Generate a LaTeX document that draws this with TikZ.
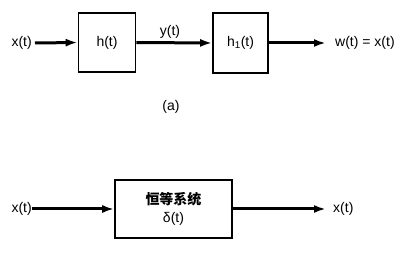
\documentclass[tikz,border=0pt]{standalone}
\usepackage{fontspec}
\setmainfont{Liberation Sans}
\newfontfamily\cjk{Noto Sans CJK SC}
\usetikzlibrary{arrows.meta}
\begin{document}
\begin{tikzpicture}[x=1pt,y=-1pt,
  font=\fontsize{14}{16}\selectfont,
  blockbox/.style={draw,line width=1.6pt,minimum width=#1,inner sep=0pt},
  sig/.style={line width=3pt,-{Latex[length=12pt,width=8pt]}},
  lbl/.style={inner sep=0pt}]
\useasboundingbox (0,0) rectangle (408,254);
% (a)
\node[blockbox=57pt,minimum height=59pt] (b1) at (107,42.5) {h(t)};
\node[blockbox=55pt,minimum height=60pt] (b2) at (240.5,43) {h\textsubscript{1}(t)};
\node[lbl,anchor=east] (xa) at (32,43) {x(t)};
\node[lbl] (ya) at (170,32) {y(t)};
\node[lbl,anchor=west] (wa) at (335,43) {w(t) = x(t)};
\node[lbl] (cap) at (171,107) {(a)};
\draw[sig] (xa.east) ++(3pt,0) coordinate (xas) -- (b1.west);
\draw[sig] (b1.east) -- (b2.west);
\draw[sig,shorten >=9pt] (b2.east) -- (wa.west);
% (b)
\node[blockbox=117pt,minimum height=58pt,align=center] (b3) at (173.5,209)
  {{\cjk\bfseries 恒等系统}\\[2pt]δ(t)};
\node[lbl,anchor=east] (xb) at (32,209) {x(t)};
\node[lbl,anchor=west] (xc) at (333,209) {x(t)};
\draw[sig] (xb.east) -- (b3.west);
\draw[sig,shorten >=7pt] (b3.east) -- (xc.west);
\end{tikzpicture}
\end{document}
